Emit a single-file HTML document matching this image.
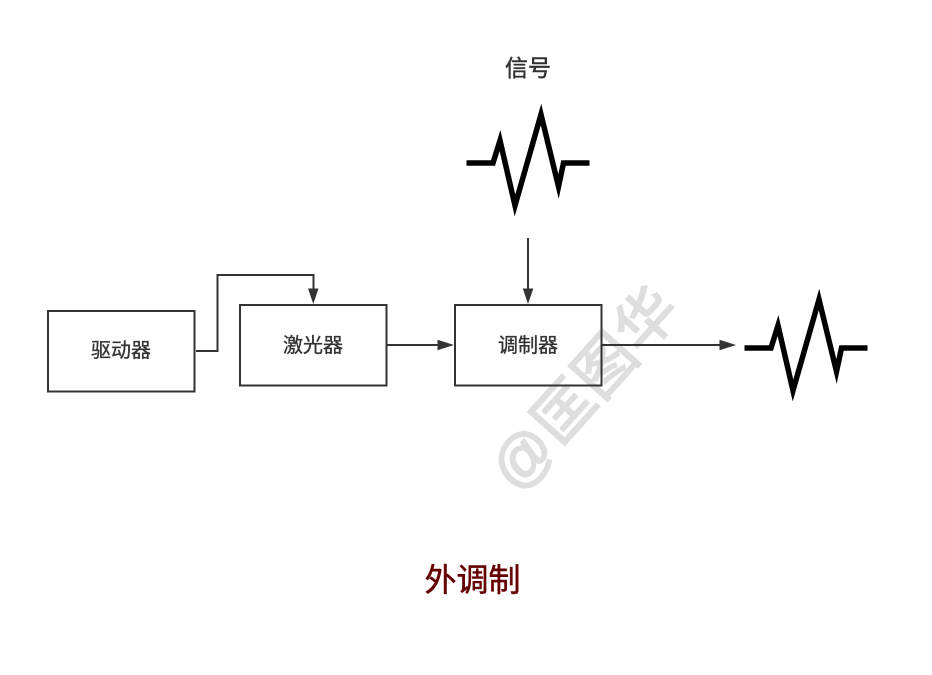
<!DOCTYPE html>
<html>
<head>
<meta charset="utf-8">
<style>
html,body{margin:0;padding:0;background:#fff;width:932px;height:675px;overflow:hidden}
svg{display:block}
text{font-family:"Liberation Sans","Noto Sans CJK SC",sans-serif}
</style>
</head>
<body>
<svg width="932" height="675" viewBox="0 0 932 675" xmlns="http://www.w3.org/2000/svg">
<rect width="932" height="675" fill="#fff"/>
<text x="0" y="0" transform="translate(584.500 389) rotate(-48)" text-anchor="middle" dominant-baseline="central" font-size="60" fill="#dedede" stroke="#dedede" stroke-width="2" textLength="246" lengthAdjust="spacing">@匡图华</text>

<g fill="#fff" fill-opacity="0" stroke="#333" stroke-width="2">
<rect x="48" y="311" width="146.500" height="80.500"/>
<rect x="240" y="305" width="146.500" height="80.500"/>
<rect x="455" y="305" width="146.500" height="80.500"/>
</g>

<g fill="none" stroke="#333" stroke-width="2">
<polyline points="196,351 217.500,351 217.500,275 313.500,275 313.500,291"/>
<line x1="387" y1="345" x2="440" y2="345"/>
<line x1="528" y1="238" x2="528" y2="291"/>
<line x1="602" y1="345" x2="722" y2="345"/>
</g>
<g fill="#333">
<polygon points="308,288.500 318.500,288.500 313.300,304"/>
<polygon points="437.500,339.700 437.500,350.300 454,345"/>
<polygon points="522.800,288.500 533.300,288.500 528,304"/>
<polygon points="719.500,339.700 719.500,350.300 736,345"/>
</g>

<g fill="none" stroke="#000" stroke-width="5.500" stroke-miterlimit="14">
<polyline points="466.500,163 493,163 500,140.500 515,205.500 541,114.500 558.500,186.500 563.500,163 589.500,163"/>
<polyline points="744.500,348 771,348 778,325.500 793,390.500 819,299.500 836.500,371.500 841.500,348 867.500,348"/>
</g>

<g font-size="20" fill="#333" text-anchor="middle" stroke="#333" stroke-width="0.350">
<text x="121" y="357">驱动器</text>
<text x="313" y="352">激光器</text>
<text x="528" y="352">调制器</text>
<text x="528" y="76" font-size="23" stroke-width="0.500">信号</text>
</g>
<text x="472.500" y="591" font-size="32" fill="#660000" stroke="#660000" stroke-width="0.500" text-anchor="middle">外调制</text>
</svg>
</body>
</html>
